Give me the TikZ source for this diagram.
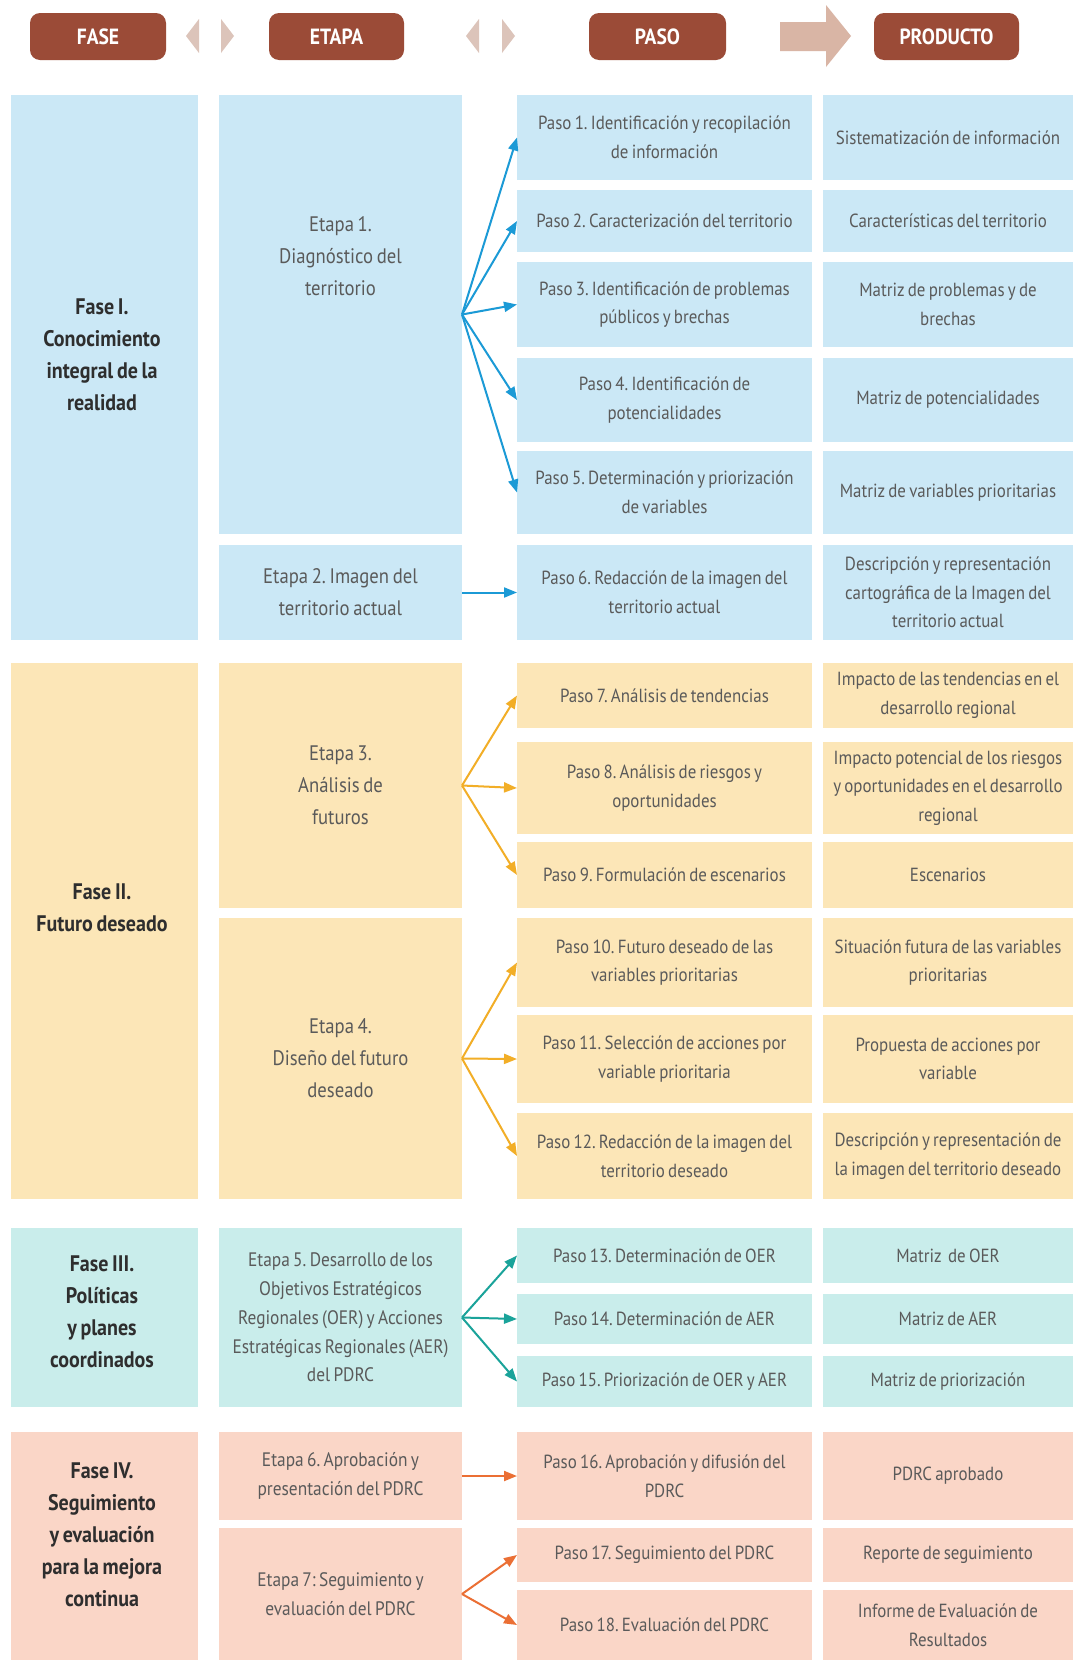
\documentclass[tikz,border=0pt]{standalone}
\usepackage{fontspec}
\setmainfont{PT Sans}[FakeStretch=0.89,WordSpace=0.72]
\frenchspacing
\usetikzlibrary{arrows.meta}
\definecolor{cblue}{HTML}{CBE8F6}
\definecolor{cyell}{HTML}{FCE6B7}
\definecolor{cteal}{HTML}{C9EDEB}
\definecolor{cpink}{HTML}{FAD6C7}
\definecolor{ablue}{HTML}{1B9AD6}
\definecolor{agold}{HTML}{F2AE27}
\definecolor{ateal}{HTML}{1AA39A}
\definecolor{aorng}{HTML}{EB6F34}
\definecolor{pillc}{HTML}{9B4B37}
\definecolor{tric}{HTML}{DCC4BA}
\definecolor{bigarr}{HTML}{D9B5A5}
\definecolor{txtgray}{HTML}{5A5A5A}
\definecolor{txtdark}{HTML}{2E2E2E}
\tikzset{
  cell/.style={inner sep=0pt, outer sep=0pt, draw=none, align=center, text=txtgray,
    font=\fontsize{19}{28.6}\selectfont},
  etapatxt/.style={align=center, text=txtgray, inner sep=0pt, font=\fontsize{21}{32}\selectfont},
  etapasm/.style={align=center, text=txtgray, inner sep=0pt, font=\fontsize{19.5}{28.8}\selectfont},
  fasetxt/.style={align=center, text=txtdark, inner sep=0pt, font=\bfseries\fontsize{22.5}{32}\selectfont},
  pill/.style={fill=pillc, rounded corners=10pt, text=white, inner sep=0pt,
    minimum height=47pt, font=\bfseries\fontsize{22}{26}\selectfont},
  arr/.style={line width=2pt, -{Triangle[length=13pt,width=10pt]}}
}
% name, style, x1, y1, x2, y2, text
\newcommand\cellat[7]{\node[cell,#2,minimum width={(#5)-(#3)},minimum height={(#6)-(#4)}] (#1) at ({((#3)+(#5))/2},{((#4)+(#6))/2}) {#7};}
\begin{document}
\begin{tikzpicture}[x=1pt,y=-1pt]
\fill[white] (0,0) rectangle (1073,1660);
\useasboundingbox (0,0) rectangle (1073,1660);

% ---------- header ----------
\node[pill, minimum width=136pt] (hF) at (98,36.5) {FASE};
\node[pill, minimum width=135pt] (hE) at (336.5,36.5) {ETAPA};
\node[pill, minimum width=137pt] (hP) at (657.5,36.5) {PASO};
\node[pill, minimum width=145pt] (hR) at (946.5,36.5) {PRODUCTO};
\fill[tric] (199,19) -- (199,53) -- (186,36) -- cycle;
\fill[tric] (221,19) -- (221,53) -- (234,36) -- cycle;
\fill[tric] (479,19) -- (479,53) -- (466,36) -- cycle;
\fill[tric] (502,19) -- (502,53) -- (515,36) -- cycle;
\fill[bigarr] (780,22) -- (826,22) -- (826,5) -- (851,36) -- (826,67) -- (826,51) -- (780,51) -- cycle;

% ---------- Fase column ----------
\cellat{F1}{fill=cblue}{11}{95}{198}{640}{}
\cellat{F2}{fill=cyell}{11}{663}{198}{1199}{}
\cellat{F3}{fill=cteal}{11}{1228}{198}{1407}{}
\cellat{F4}{fill=cpink}{11}{1432}{198}{1660}{}
\node[fasetxt] (F1t) at (102,355) {Fase I.\\Conocimiento\\integral de la\\realidad};
\node[fasetxt] (F2t) at (102,908) {Fase II.\\Futuro deseado};
\node[fasetxt] (F3t) at (102,1312) {Fase III.\\Políticas\\y planes\\coordinados};
\node[fasetxt] (F4t) at (102,1535) {Fase IV.\\Seguimiento\\y evaluación\\para la mejora\\continua};

% ---------- Etapa column ----------
\cellat{E1}{fill=cblue}{219}{95}{462}{534}{}
\node[etapatxt] (E1t) at (340.5,256) {Etapa 1.\\Diagnóstico del\\territorio};
\cellat{E2}{fill=cblue,etapatxt}{219}{545}{462}{640}{Etapa 2. Imagen del\\territorio actual}
\cellat{E3}{fill=cyell,etapatxt}{219}{663}{462}{908}{Etapa 3.\\Análisis de\\futuros}
\cellat{E4}{fill=cyell,etapatxt}{219}{918}{462}{1199}{Etapa 4.\\Diseño del futuro\\deseado}
\cellat{E5}{fill=cteal,etapasm}{219}{1228}{462}{1407}{Etapa 5. Desarrollo de los\\Objetivos Estratégicos\\Regionales (OER) y Acciones\\Estratégicas Regionales (AER)\\del PDRC}
\cellat{E6}{fill=cpink,etapasm}{219}{1432}{462}{1520}{Etapa 6. Aprobación y\\presentación del PDRC}
\cellat{E7}{fill=cpink,etapasm}{219}{1528}{462}{1660}{Etapa 7: Seguimiento y\\evaluación del PDRC}

% ---------- Paso column ----------
\cellat{P1}{fill=cblue}{517}{95}{812}{180}{Paso 1. Identificación y recopilación\\de información}
\cellat{P2}{fill=cblue}{517}{190}{812}{252}{Paso 2. Caracterización del territorio}
\cellat{P3}{fill=cblue}{517}{262}{812}{347}{Paso 3. Identificación de problemas\\públicos y brechas}
\cellat{P4}{fill=cblue}{517}{358}{812}{442}{Paso 4. Identificación de\\potencialidades}
\cellat{P5}{fill=cblue}{517}{451}{812}{534}{Paso 5. Determinación y priorización\\de variables}
\cellat{P6}{fill=cblue}{517}{545}{812}{640}{Paso 6. Redacción de la imagen del\\territorio actual}
\cellat{P7}{fill=cyell}{517}{663}{812}{728}{Paso 7. Análisis de tendencias}
\cellat{P8}{fill=cyell}{517}{742}{812}{834}{Paso 8. Análisis de riesgos y\\oportunidades}
\cellat{P9}{fill=cyell}{517}{842}{812}{908}{Paso 9. Formulación de escenarios}
\cellat{P10}{fill=cyell}{517}{918}{812}{1007}{Paso 10. Futuro deseado de las\\variables prioritarias}
\cellat{P11}{fill=cyell}{517}{1015}{812}{1103}{Paso 11. Selección de acciones por\\variable prioritaria}
\cellat{P12}{fill=cyell}{517}{1113}{812}{1199}{Paso 12. Redacción de la imagen del\\territorio deseado}
\cellat{P13}{fill=cteal}{517}{1228}{812}{1283}{Paso 13. Determinación de OER}
\cellat{P14}{fill=cteal}{517}{1294}{812}{1344}{Paso 14. Determinación de AER}
\cellat{P15}{fill=cteal}{517}{1356}{812}{1407}{Paso 15. Priorización de OER y AER}
\cellat{P16}{fill=cpink}{517}{1432}{812}{1520}{Paso 16. Aprobación y difusión del\\PDRC}
\cellat{P17}{fill=cpink}{517}{1528}{812}{1582}{Paso 17. Seguimiento del PDRC}
\cellat{P18}{fill=cpink}{517}{1590}{812}{1660}{Paso 18. Evaluación del PDRC}

% ---------- Producto column ----------
\cellat{R1}{fill=cblue}{823}{95}{1073}{180}{Sistematización de información}
\cellat{R2}{fill=cblue}{823}{190}{1073}{252}{Características del territorio}
\cellat{R3}{fill=cblue}{823}{262}{1073}{347}{Matriz de problemas y de\\brechas}
\cellat{R4}{fill=cblue}{823}{358}{1073}{442}{Matriz de potencialidades}
\cellat{R5}{fill=cblue}{823}{451}{1073}{534}{Matriz de variables prioritarias}
\cellat{R6}{fill=cblue}{823}{545}{1073}{640}{Descripción y representación\\cartográfica de la Imagen del\\territorio actual}
\cellat{R7}{fill=cyell}{823}{663}{1073}{728}{Impacto de las tendencias en el\\desarrollo regional}
\cellat{R8}{fill=cyell}{823}{742}{1073}{834}{Impacto potencial de los riesgos\\y oportunidades en el desarrollo\\regional}
\cellat{R9}{fill=cyell}{823}{842}{1073}{908}{Escenarios}
\cellat{R10}{fill=cyell}{823}{918}{1073}{1007}{Situación futura de las variables\\prioritarias}
\cellat{R11}{fill=cyell}{823}{1015}{1073}{1103}{Propuesta de acciones por\\variable}
\cellat{R12}{fill=cyell}{823}{1113}{1073}{1199}{Descripción y representación de\\la imagen del territorio deseado}
\cellat{R13}{fill=cteal}{823}{1228}{1073}{1283}{Matriz\ \ de OER}
\cellat{R14}{fill=cteal}{823}{1294}{1073}{1344}{Matriz de AER}
\cellat{R15}{fill=cteal}{823}{1356}{1073}{1407}{Matriz de priorización}
\cellat{R16}{fill=cpink}{823}{1432}{1073}{1520}{PDRC aprobado}
\cellat{R17}{fill=cpink}{823}{1528}{1073}{1582}{Reporte de seguimiento}
\cellat{R18}{fill=cpink}{823}{1590}{1073}{1660}{Informe de Evaluación de\\Resultados}

% ---------- connectors ----------
\foreach \p in {P1,P2,P3,P4,P5} \draw[arr,ablue] (E1.east) -- (\p.west);
\draw[arr,ablue] (E2.east) -- (P6.west);
\foreach \p in {P7,P8,P9} \draw[arr,agold] (E3.east) -- (\p.west);
\foreach \p in {P10,P11,P12} \draw[arr,agold] (E4.east) -- (\p.west);
\foreach \p in {P13,P14,P15} \draw[arr,ateal] (E5.east) -- (\p.west);
\draw[arr,aorng] (E6.east) -- (P16.west);
\foreach \p in {P17,P18} \draw[arr,aorng] (E7.east) -- (\p.west);
\end{tikzpicture}
\end{document}
